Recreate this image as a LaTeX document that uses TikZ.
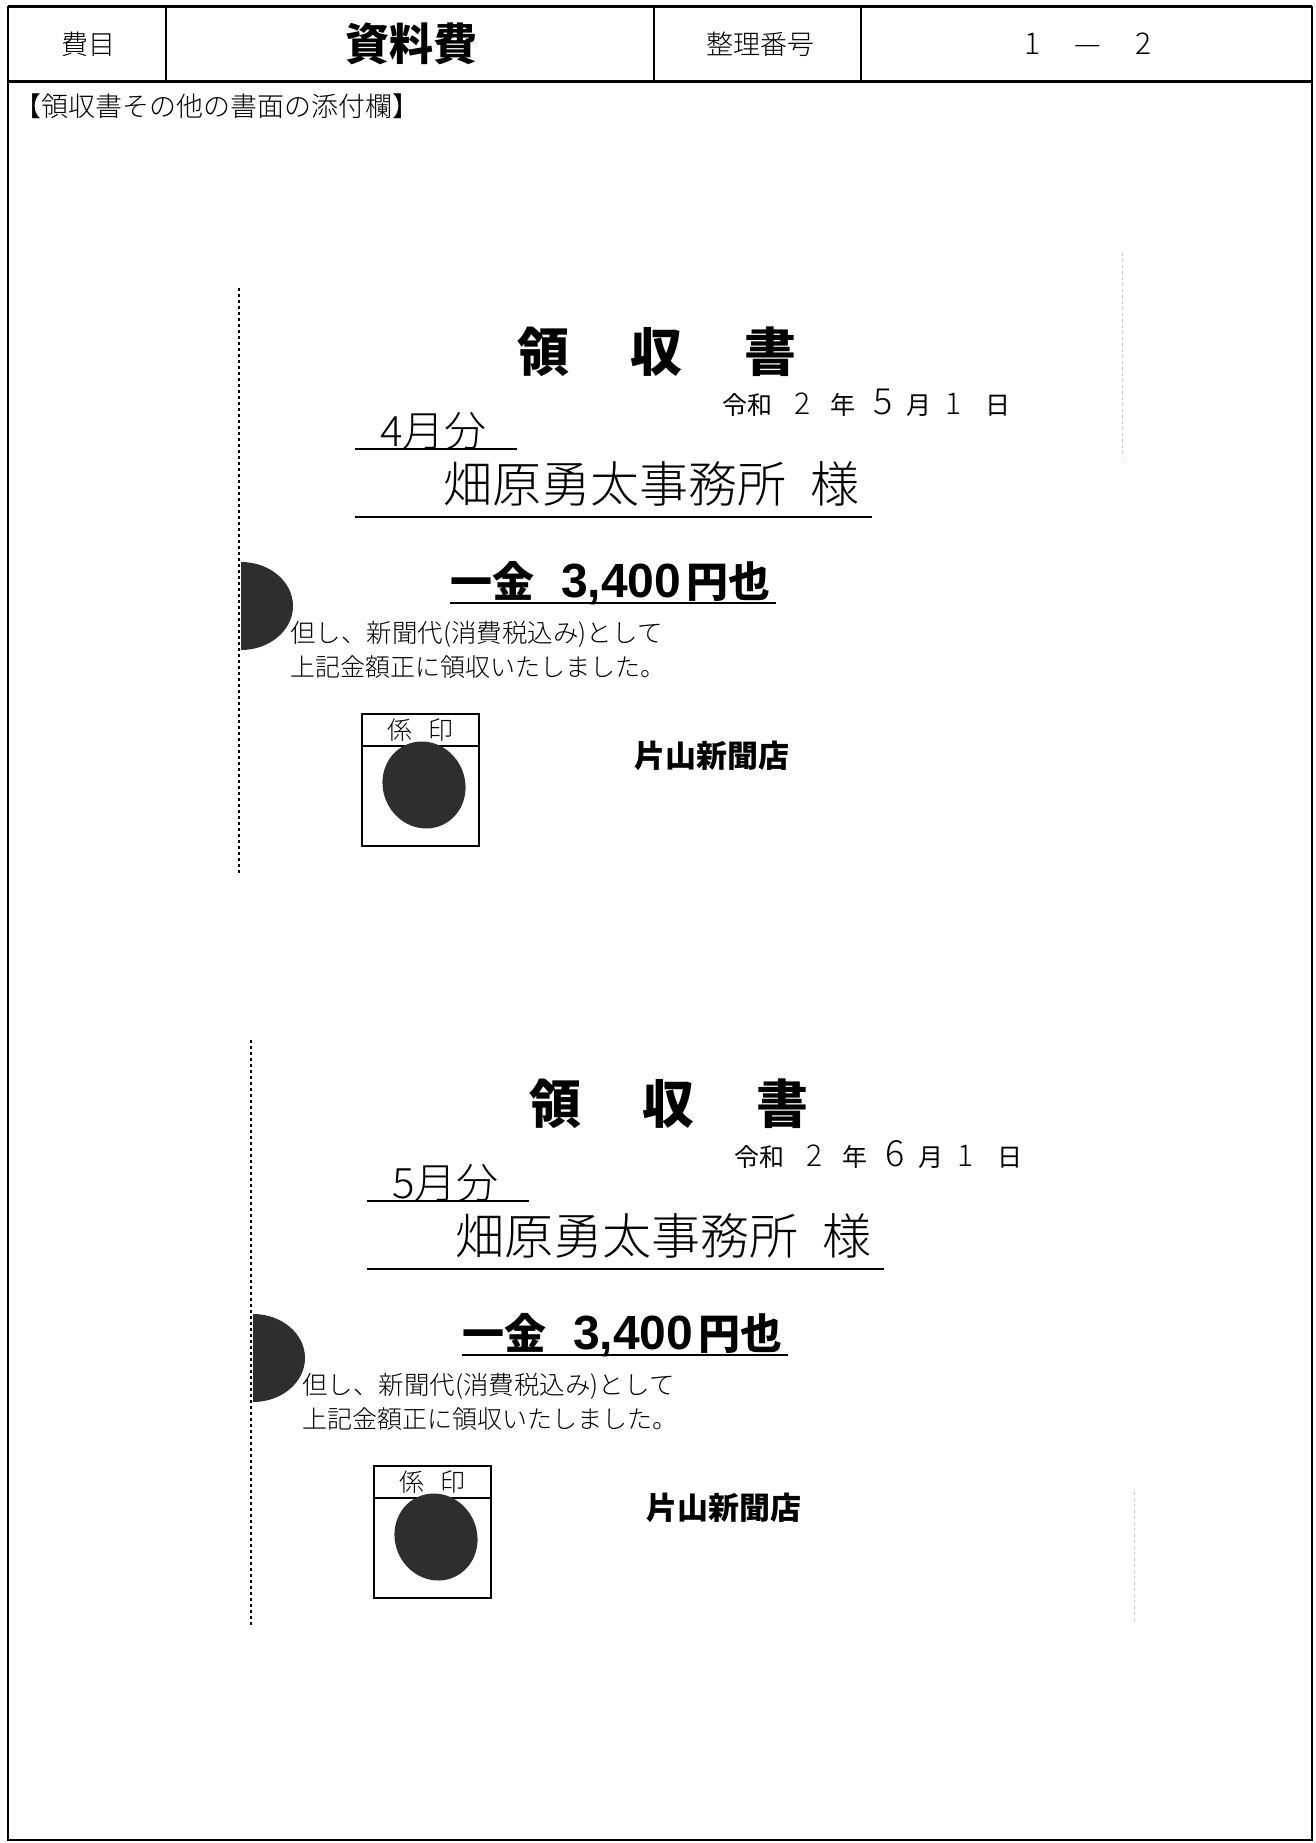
\documentclass[tikz,border=0pt]{standalone}
\usepackage{fontspec}
\newfontfamily\jp{Noto Sans CJK JP}
\newfontfamily\jpthin{Noto Sans CJK JP Light}
\newfontfamily\numfont{Liberation Sans}
\usepackage{xcolor}
\definecolor{stampink}{rgb}{0.18,0.18,0.18}
\usepackage{tikz}

\begin{document}
\begin{tikzpicture}[x=1pt,y=-1pt,
  jtext/.style={inner sep=0pt, anchor=west, font=\jp},
  cutline/.style={line width=1.8pt, dash pattern=on 3pt off 3pt},
  rule/.style={line width=1.8pt}]
            \useasboundingbox[fill=white] (0,0) rectangle (1315,1843);

            % Frame and header row
            \draw[line width=2pt] (8,7) rectangle (1312,1840);
            \draw[line width=3pt] (8,7) -- (1312,7);
            \draw[line width=3pt] (8,82) -- (1312,82);
            \foreach \x in {166,654,861} \draw[line width=2pt] (\x,7) -- (\x,82);
            \node[jtext, anchor=center, font=\jpthin\fontsize{27}{27}\selectfont] (himoku) at (88,44) {費目};
            \node[jtext, anchor=center, font=\jp\bfseries\fontsize{44}{44}\selectfont] (shiryohi) at (411,44) {資料費};
            \node[jtext, anchor=center, font=\jpthin\fontsize{27}{27}\selectfont] (seiri) at (760,44) {整理番号};
            \node[jtext, anchor=center, font=\jpthin\fontsize{30}{30}\selectfont] (bango) at (1088,44) {1\hspace{34pt}—\hspace{34pt}2};
            \node[jtext, font=\jpthin\fontsize{27}{27}\selectfont] (tenpu) at (14,106) {【領収書その他の書面の添付欄】};

            % Faint scan marks on the right
            \draw[gray!45, cutline, line width=1pt] (1122,253) -- (1122,458);
            \draw[gray!45, cutline, line width=1pt] (1134,1492) -- (1134,1622);

            % Receipts
            \foreach \i/\dx/\dy/\mon/\m in {1/0/0/4/5, 2/12/752/5/6} {
              \begin{scope}[shift={(\dx,\dy)}]
                \draw[cutline] (239,288) -- (239,875);
                \node[jtext, anchor=center, font=\jp\bfseries\fontsize{52}{52}\selectfont] (title\i) at (657,352) {領\hspace{62pt}収\hspace{62pt}書};
                \node[jtext, font=\jp\fontsize{25}{25}\selectfont] (date\i) at (722,403)
                  {令和\hspace{22pt}{\jpthin\fontsize{30}{30}\selectfont 2}\hspace{20pt}年\hspace{18pt}{\jpthin\fontsize{36}{36}\selectfont \m}\hspace{14pt}月\hspace{14pt}{\jpthin\fontsize{30}{30}\selectfont 1}\hspace{24pt}日};
                \node[jtext, font=\jpthin\fontsize{42}{42}\selectfont] (month\i) at (380,431) {\mon 月分};
                \draw[rule] (355,449) -- (517,449);
                \node[jtext, font=\jpthin\fontsize{49}{49}\selectfont] (atena\i) at (443,484) {畑原勇太事務所\hspace{24pt}様};
                \draw[rule] (355,517) -- (872,517);
                \node[jtext, font=\jp\bfseries\fontsize{42}{42}\selectfont] (kingaku\i) at (450,583)
                  {一金\hspace{27pt}{\numfont\bfseries\fontsize{48}{48}\selectfont 3,400}\hspace{5pt}円也};
                \draw[line width=2.5pt] (450,603) -- (776,603);
                \fill[stampink] (241,562) arc[start angle=90, end angle=-90, x radius=52pt, y radius=44pt] -- cycle;
                \node[jtext, font=\jpthin\fontsize{25.5}{25.5}\selectfont] (tadashi\i) at (290,634) {但し、新聞代(消費税込み)として};
                \node[jtext, font=\jpthin\fontsize{25}{25}\selectfont] (ryoshu\i) at (290,667) {上記金額正に領収いたしました。};
                \draw[line width=1.5pt] (362,714) rectangle (479,846);
                \draw[line width=1.5pt] (362,746) -- (479,746);
                \node[jtext, anchor=center, font=\jpthin\fontsize{25}{25}\selectfont] (kakari\i) at (420,730) {係\hspace{16pt}印};
                \fill[stampink, rotate around={25:(424,785)}] (424,785) ellipse[x radius=41pt, y radius=44pt];
                \node[jtext, font=\jp\bfseries\fontsize{31}{31}\selectfont] (shop\i) at (634,756) {片山新聞店};
              \end{scope}
            }
        \end{tikzpicture}
\end{document}
